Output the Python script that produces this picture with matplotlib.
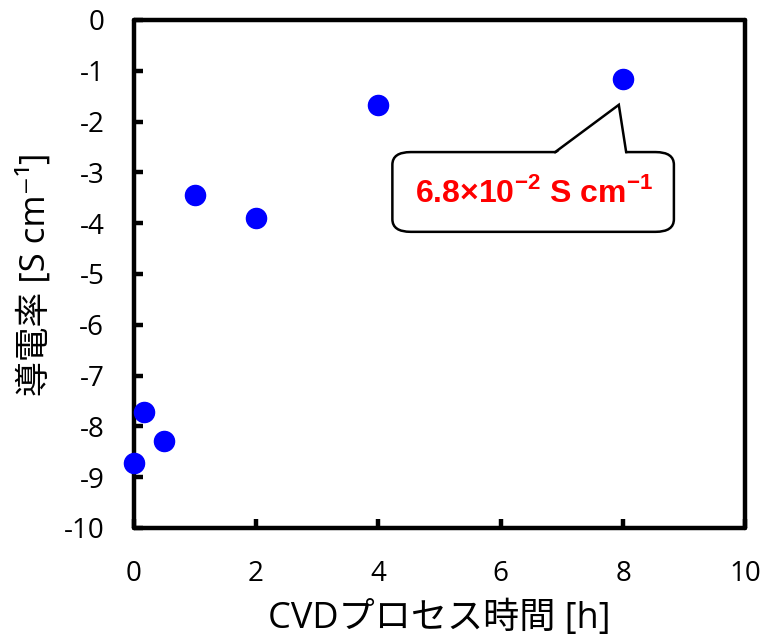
import matplotlib
matplotlib.use("Agg")
import matplotlib.pyplot as plt
from matplotlib.patches import FancyBboxPatch, Polygon
from matplotlib.lines import Line2D

plt.rcParams['font.family'] = ['Open Sans', 'Noto Sans CJK JP', 'DejaVu Sans']
plt.rcParams['mathtext.fontset'] = 'custom'
plt.rcParams['mathtext.rm'] = 'Liberation Sans'
plt.rcParams['mathtext.bf'] = 'Liberation Sans:bold'

# data
cvd_hours = [0, 0.17, 0.5, 1, 2, 4, 8]
log_conductivity = [-8.72, -7.72, -8.29, -3.44, -3.9, -1.67, -1.16]
x_ticks = [0, 2, 4, 6, 8, 10]
y_ticks = [0, -1, -2, -3, -4, -5, -6, -7, -8, -9, -10]
x_label = "CVDプロセス時間 [h]"
y_label = "導電率 [S cm⁻¹]"
callout_text = r"6.8×10$^{\mathbf{-2}}$ S cm$^{\mathbf{-1}}$"

fig = plt.figure(figsize=(7.67, 6.44), dpi=100)
ax = fig.add_axes([133.5/767, 1-528/644, 612/767, 508/644])
ax.scatter(cvd_hours, log_conductivity, s=210, color='#0000FF', zorder=3, clip_on=False)
ax.set_xlim(0, 10)
ax.set_ylim(-10, 0)
ax.set_xticks(x_ticks)
ax.set_yticks(y_ticks)
ax.set_xticklabels([str(v) for v in x_ticks])
ax.set_yticklabels([str(v) for v in y_ticks])
for s in ax.spines.values():
    s.set_linewidth(3.2)
    s.set_capstyle('round')
ax.tick_params(direction='in', length=6.5, width=3.2, labelsize=20)
ax.tick_params(axis='y', pad=21)
ax.tick_params(axis='x', pad=23)
ax.set_xlabel(x_label, fontsize=26, labelpad=9)
ax.set_ylabel(y_label, fontsize=25, labelpad=8)

# callout
box = FancyBboxPatch((4.23, -4.17), 8.83-4.23, -2.6+4.17,
                     boxstyle="round,pad=0,rounding_size=0.3",
                     mutation_aspect=50.8/61.5,
                     facecolor='white', edgecolor='black', linewidth=1.8, zorder=4)
ax.add_patch(box)
wedge = Polygon([(6.89, -2.64), (7.93, -1.67), (8.05, -2.64)], closed=True,
                facecolor='white', edgecolor='none', zorder=5)
ax.add_patch(wedge)
ax.add_line(Line2D([6.89, 7.93, 8.05], [-2.6, -1.67, -2.6], color='black', linewidth=1.8,
                   solid_joinstyle='miter', zorder=6))
ax.text(6.55, -3.4, callout_text, color='#FF0000', fontsize=23, fontweight='bold',
        family='Liberation Sans', ha='center', va='center', zorder=7)

fig.savefig("out.png", dpi=100)
